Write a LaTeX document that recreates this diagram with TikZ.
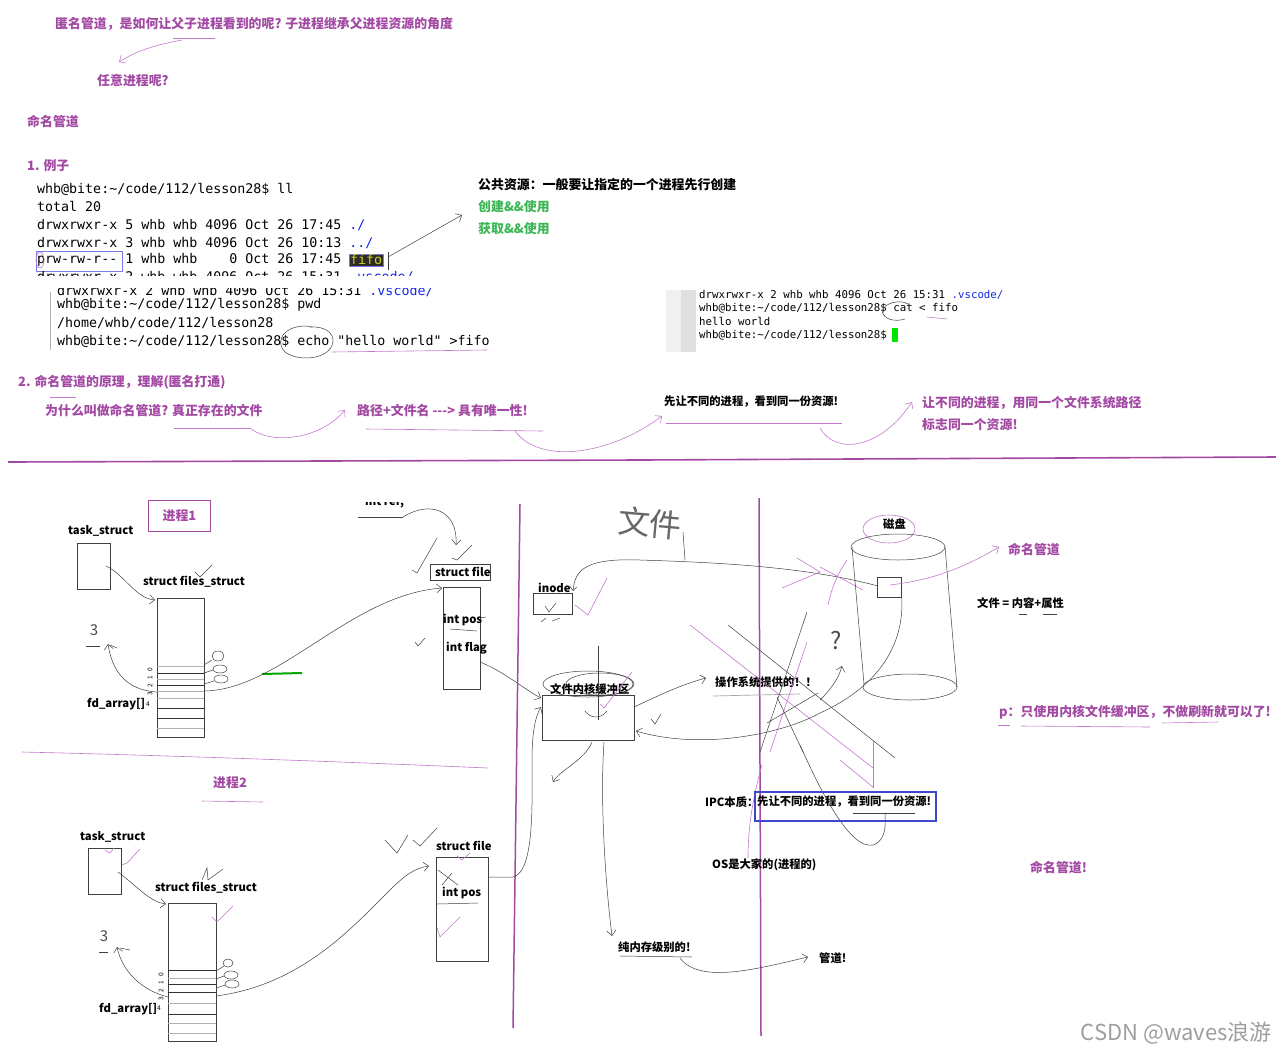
\documentclass[tikz,border=0pt]{standalone}
\usepackage{fontspec}
\setmainfont{Noto Sans CJK SC}
\newfontfamily\monof{DejaVu Sans Mono}
\usetikzlibrary{arrows.meta}
\definecolor{pur}{RGB}{163,73,164}
\definecolor{lpur}{RGB}{196,120,206}
\definecolor{grn}{RGB}{58,183,84}
\definecolor{blu}{RGB}{63,72,204}
\definecolor{lblu}{RGB}{120,120,230}
\definecolor{tblu}{RGB}{20,40,235}
\definecolor{fifobg}{RGB}{45,45,35}
\definecolor{fifofg}{RGB}{205,205,50}
\begin{document}
\begin{tikzpicture}[x=1pt,y=-1pt,
 cn/.style={anchor=west,inner sep=0pt,font=\fontsize{12.9}{15}\selectfont\bfseries},
 pcn/.style={cn,text=pur},
 gcn/.style={cn,text=grn},
 sm/.style={anchor=west,inner sep=0pt,font=\fontsize{11.3}{13}\selectfont\bfseries},
 term/.style={anchor=west,inner sep=0pt,font=\monof\fontsize{13.3}{15}\selectfont},
 sterm/.style={anchor=west,inner sep=0pt,font=\monof\fontsize{10.75}{12}\selectfont},
 hand/.style={line width=0.5pt,black!75},
 phand/.style={line width=0.6pt,lpur},
 box/.style={draw=black!75,line width=0.6pt,inner sep=0pt},
 harr/.style={-{Straight Barb[length=5pt,width=9pt]}},
 tiny/.style={inner sep=0pt,font=\fontsize{6.5}{7}\selectfont},
 scrib/.style={inner sep=0pt,text=black!70,font=\fontsize{15}{15}\selectfont}
 ]
\fill[white] (0,0) rectangle (1276,1055);
\useasboundingbox (0,0) rectangle (1276,1055);

% ---------------- top part
\node[pcn] (q1) at (55,24) {匿名管道，是如何让父子进程看到的呢? 子进程继承父进程资源的角度};
\draw[phand] (173,38) -- (215,38);
\draw[phand,harr] (182,40) .. controls (150,46) and (135,52) .. (119,62);
\node[pcn] (q2) at (97,81) {任意进程呢?};
\node[pcn] (h1) at (27,122) {命名管道};
\node[pcn] (h2) at (27,166) {1. 例子};

% terminal 1
\node[term] (l1) at (37,189) {whb@bite:\textasciitilde/code/112/lesson28\$ ll};
\node[term] (l2) at (37,207) {total 20};
\node[term] (l3) at (37,225) {drwxrwxr-x 5 whb whb 4096 Oct 26 17:45 \textcolor{tblu}{./}};
\node[term] (l4) at (37,243) {drwxrwxr-x 3 whb whb 4096 Oct 26 10:13 \textcolor{tblu}{../}};
\node[term] (l5) at (37,260) {prw-rw-r-- 1 whb whb\ \ \ \ 0 Oct 26 17:45};
\node[term,fill=fifobg,text=fifofg,inner sep=1pt,draw=lblu] (fifo) at (349,260) {fifo};
\draw[lblu,line width=0.6pt] (36,251) rectangle (122,271);
\draw[phand] (40,260) ellipse (4 and 8);
\draw[hand] (388,252) -- (388,270);
\coordinate (pubend) at (462,215);
\draw[hand,harr] (388,257) -- (pubend);
\begin{scope}
\clip (30,270) rectangle (420,275);
\node[term] at (37,277) {drwxrwxr-x 2 whb whb 4096 Oct 26 15:31 \textcolor{tblu}{.vscode/}};
\end{scope}
\begin{scope}
\clip (50,288) rectangle (500,297);
\node[term] at (57,291) {drwxrwxr-x 2 whb whb 4096 Oct 26 15:31 \textcolor{tblu}{.vscode/}};
\end{scope}
\draw[gray!60,line width=1pt] (50,292) -- (50,350);

% terminal 2
\node[term] (m1) at (57,305) {whb@bite:\textasciitilde/code/112/lesson28\$ pwd};
\node[term] (m2) at (57,323) {/home/whb/code/112/lesson28};
\node[term] (m3) at (57,341) {whb@bite:\textasciitilde/code/112/lesson28\$ echo "hello world" >fifo};
\draw[hand] (313,327) .. controls (290,322) and (272,338) .. (285,352) .. controls (298,362) and (330,360) .. (333,342) .. controls (334,333) and (325,326) .. (310,327);
\draw[phand] (332,352) -- (487,350);

% terminal 3
\fill[gray!12] (666,290) rectangle (696,352);
\fill[gray!24] (681,290) rectangle (696,352);
\node[sterm] (r1) at (699,295) {drwxrwxr-x 2 whb whb 4096 Oct 26 15:31 \textcolor{tblu}{.vscode/}};
\node[sterm] (r2) at (699,308) {whb@bite:\textasciitilde/code/112/lesson28\$ cat < fifo};
\node[sterm] (r3) at (699,321) {hello world};
\node[sterm] (r4) at (699,335) {whb@bite:\textasciitilde/code/112/lesson28\$};
\fill[green!90!black] (892,328) rectangle (898,342);
\draw[hand] (908,304) .. controls (900,299) and (884,303) .. (882,311) .. controls (884,320) and (895,322) .. (905,319);
\draw[phand] (927,317) -- (947,319);

\node[cn] (pub) at (478,185) {公共资源：一般要让指定的一个进程先行创建};
\node[gcn] (g1) at (478,207) {创建\&\&使用};
\node[gcn] (g2) at (478,229) {获取\&\&使用};

% section 2
\node[pcn] (s2) at (18,382) {2. 命名管道的原理，理解(匿名打通)};
\draw[phand] (50,397) -- (76,397);
\node[pcn] (why) at (45,411) {为什么叫做命名管道? 真正存在的文件};
\node[pcn] (path) at (357,411) {路径+文件名 {-}{-}{-}> 具有唯一性!};
\node[sm] (see) at (664,402) {先让不同的进程，看到同一份资源!};
\node[pcn] (let1) at (922,403) {让不同的进程，用同一个文件系统路径};
\node[pcn] (let2) at (922,425) {标志同一个资源!};
\draw[phand] (174,428) -- (250,428);
\draw[phand,harr] (250,428) .. controls (270,445) and (320,440) .. (345,410);
\draw[phand] (366,429) -- (543,431);
\draw[phand,harr] (515,431) .. controls (540,465) and (610,455) .. (662,416);
\draw[phand] (666,423) -- (842,423);
\draw[phand,harr] (820,428) .. controls (835,455) and (880,450) .. (912,402);
\draw[pur,line width=1.6pt] (8,462) -- (640,460) -- (1276,457);

% ---------------- process 1
\node[draw=pur,line width=1.2pt,text=pur,font=\fontsize{12.9}{15}\selectfont\bfseries,minimum width=62pt,minimum height=31pt,inner sep=0pt] (p1) at (179.5,516) {进程1};
\node[sm] (ts1l) at (68,531) {task\_struct};
\node[box,minimum width=33pt,minimum height=46pt] (ts1) at (93.5,566) {};
\node[sm] (fs1l) at (143,582) {struct files\_struct};
\node[box,minimum width=47pt,minimum height=139pt] (fs1) at (180.5,667.5) {};
\foreach \y/\c in {666/gray!60,673/black!80,679/gray!60,685/black!80,691/gray!60,698/gray!60,708/black!80,718/black!80,728/gray!60}
  \draw[\c,line width=0.6pt] (157,\y) -- (204,\y);
\draw[hand,harr] (106,566) .. controls (125,575) and (135,598) .. (155,600);
\draw[hand] (195,572) -- (200,577) -- (212,565);
\foreach \n/\y in {0/670,1/678,2/686,3/694} \node[tiny,rotate=90] at (150,\y) {\n};
\node[sm] (fd1) at (87,704) {fd\_array[]};
\node[tiny] at (148,704) {4};
\draw[hand,harr] (157,692) .. controls (125,690) and (112,670) .. (108,644);
\node[scrib] at (94,630) {3};
\draw[hand] (86,646) -- (100,646);
\draw[hand] (110,645) -- (117,648);
\draw[hand] (218,656) ellipse (6 and 5);
\draw[hand] (220,669) ellipse (7 and 4);
\draw[hand] (221,679) ellipse (7 and 4);
\draw[hand] (204,665) -- (212,660);
\draw[hand] (204,673) -- (213,670);
\draw[hand] (204,684) -- (214,681);
\draw[green!65!black,line width=2pt] (262,674) -- (302,673);
\node[box,minimum width=37pt,minimum height=102pt] (sf1) at (462,638) {};
\draw[hand,harr] (204,691) .. controls (280,690) and (350,595) .. (442,588);

\begin{scope}
\clip (355,502) rectangle (420,515);
\node[sm] (iref) at (365,502) {int ref;};
\end{scope}
\draw[hand] (358,517) -- (403,517);
\draw[hand,harr] (403,517) .. controls (430,500) and (458,510) .. (456,545);
\draw[hand] (412,570) -- (417,573) -- (437,538);
\draw[hand] (452,558) -- (457,560) -- (472,545);
\draw[hand] (415,642) -- (418,646) -- (425,638);
\node[sm] (sf1l) at (435,572) {struct file};
\draw[hand] (430,564) rectangle (490,580);
\node[sm] (ipos1) at (443,620) {int pos};
\draw[hand] (450,629) -- (477,631);
\draw[hand] (480,618) -- (486,617);
\node[sm] (iflag) at (446,648) {int flag};
\draw[hand,harr] (480,662) .. controls (505,672) and (525,690) .. (541,698);

% purple vertical dividers
\draw[pur,line width=1.5pt] (520,504) -- (513,1028);
\draw[pur,line width=1.5pt] (759,498) -- (761,1036);

% file / inode
\node[scrib,text=black!60,font=\fontsize{32}{32}\selectfont,rotate=-5] (wj) at (650,523) {文件};
\draw[hand] (683,532) -- (685,560);
\node[sm] (inl) at (538,588) {inode};
\node[box,minimum width=39pt,minimum height=21pt] (ino) at (552.5,604) {};
\draw[hand] (545,606) -- (549,612) -- (556,603);
\draw[hand,{Straight Barb[length=4pt,width=7pt]}-] (573,591) .. controls (575,570) and (585,558) .. (640,560) .. controls (700,562) and (800,565) .. (878,586);
\draw[phand] (797,558) -- (820,572) -- (782,588);
\draw[phand] (575,605) -- (588,615) -- (607,578);
\draw[hand] (541,622) -- (546,618);
\draw[hand] (552,621) -- (560,618);

% kernel buffer
\draw[hand] (588,684) ellipse (45 and 13);
\draw[hand] (600,684) ellipse (34 and 11);
\node[sm] (kbl) at (550,689) {文件内核缓冲区};
\node[box,minimum width=92pt,minimum height=45pt] (kb) at (588,718) {};
\draw[hand] (598,646) -- (598,720);
\draw[hand] (585,711) .. controls (590,718) and (600,720) .. (607,711);
\draw[phand] (600,704) -- (604,708) -- (632,672);
\draw[hand,harr] (634,707) .. controls (660,695) and (680,685) .. (706,678);
\node[sm] (osp) at (715,682) {操作系统提供的！！};
\draw[gray!70,line width=0.7pt] (713,696) -- (800,694);
\draw[hand] (651,719) -- (655,724) -- (661,714);
\draw[hand,harr] (592,742) .. controls (585,760) and (560,770) .. (553,782);
\draw[hand,harr] (604,742) .. controls (600,800) and (605,880) .. (612,936);
\node[sm] (pure) at (618,947) {纯内存级别的!};
\draw[hand] (620,956) -- (692,957);
\draw[hand,harr] (680,958) .. controls (700,985) and (760,968) .. (808,957);
\node[sm] (gd) at (819,958) {管道!};

% crossing strokes
\draw[phand] (690,625) -- (873,768);
\draw[hand] (728,625) -- (895,758);
\draw[hand] (807,612) -- (760,752);
\draw[phand] (807,642) -- (770,752);
\draw[hand] (777,697) -- (803,752);
\draw[hand] (818,693) -- (767,723);
\draw[phand] (873,740) -- (873,788);
\draw[phand] (840,760) -- (873,787);
\draw[hand] (800,745) .. controls (820,790) and (850,850) .. (873,845) .. controls (888,840) and (885,820) .. (885,813);
\draw[phand] (762,765) .. controls (752,800) and (748,830) .. (748,858);
\node[scrib,font=\fontsize{24}{24}\selectfont] (qm) at (836,641) {?};
\draw[hand,harr] (820,700) .. controls (830,690) and (838,680) .. (842,666);
\draw[phand] (828,605) .. controls (832,585) and (840,570) .. (847,560);
\draw[phand] (820,567) -- (863,590);

% disk
\node[sm] (dl) at (883,524) {磁盘};
\draw[phand] (889,529) ellipse (26 and 14);
\draw[hand] (898,547) ellipse (47 and 13);
\draw[hand] (852,547) -- (864,684);
\draw[hand] (945,547) -- (957,687);
\draw[hand] (910,687) ellipse (47 and 13);
\node[box,minimum width=24pt,minimum height=20pt] (db) at (889.5,587) {};
\draw[hand,harr] (db.south east) .. controls (905,660) and (860,695) .. (820,713) .. controls (780,735) and (700,750) .. (636,731);
\node[pcn] (nm) at (1008,550) {命名管道};
\draw[phand,harr] (890,585) .. controls (930,580) and (960,570) .. (999,547);
\node[sm] (fe) at (977,603) {文件 = 内容+属性};
\draw[hand] (1019,614) -- (1027,614);
\draw[hand] (1043,614) -- (1057,614);
\node[pcn] (pp) at (999,712) {p：只使用内核文件缓冲区，不做刷新就可以了!};
\draw[phand] (998,725) -- (1010,725);
\draw[phand] (1021,726) -- (1150,727);
\draw[phand] (1162,723) -- (1218,722);

% IPC
\node[sm] (ipc) at (705,802) {IPC本质：};
\node[draw=blu,line width=2pt,minimum width=181pt,minimum height=29pt,inner sep=0pt] (ipcb) at (845,806) {};
\node[sm] (ipct) at (757,802) {先让不同的进程，看到同一份资源!};
\draw[hand] (853,813) -- (915,813);
\node[sm] (os) at (712,865) {OS是大家的(进程的)};
\node[pcn] (nm2) at (1030,868) {命名管道!};

% ---------------- process 2
\draw[phand] (22,752) .. controls (150,755) and (300,760) .. (488,768);
\node[pcn] (p2) at (213,783) {进程2};
\draw[phand] (202,801) -- (263,802);
\node[sm] (ts2l) at (80,837) {task\_struct};
\node[box,minimum width=33pt,minimum height=46pt] (ts2) at (105,871) {};
\node[sm] (fs2l) at (155,888) {struct files\_struct};
\node[box,minimum width=48pt,minimum height=138pt] (fs2) at (192,972) {};
\foreach \y/\c in {970/black!80,978/gray!60,984/black!80,992/black!80,1003/gray!60,1014/black!80,1023/gray!60,1033/gray!60}
  \draw[\c,line width=0.6pt] (168,\y) -- (216,\y);
\foreach \n/\y in {0/975,1/983,2/991,3/999} \node[tiny,rotate=90] at (161,\y) {\n};
\node[sm] (fd2) at (99,1009) {fd\_array[]};
\node[tiny] at (159,1008) {4};
\draw[hand,harr] (118,872) .. controls (138,887) and (150,902) .. (166,904);
\draw[hand,harr] (168,997) .. controls (140,990) and (122,970) .. (117,947);
\node[scrib] at (104,936) {3};
\draw[hand] (99,952) -- (108,952);
\draw[hand] (120,948) -- (130,950);
\draw[hand] (228,963) ellipse (5 and 4);
\draw[hand] (231,975) ellipse (7 and 4);
\draw[hand] (232,984) ellipse (7 and 4);
\draw[hand] (216,971) -- (224,966);
\draw[hand] (216,979) -- (224,976);
\draw[hand] (216,988) -- (225,985);
\draw[phand] (105,850) -- (110,853) -- (114,848);
\draw[phand] (122,865) -- (127,863) -- (140,849);
\draw[hand] (202,880) -- (207,868) -- (208,880) -- (223,869);
\draw[phand] (212,917) -- (217,922) -- (233,906);
\node[sm] (sf2l) at (436,846) {struct file};
\node[box,minimum width=52pt,minimum height=104pt] (sf2) at (462,909) {};
\node[sm] (ipos2) at (442,893) {int pos};
\draw[hand] (437,904) -- (478,903);
\draw[hand] (438,870) -- (458,885);
\draw[hand] (442,885) -- (452,873);
\draw[phand] (437,928) -- (440,937) -- (460,917);
\draw[phand] (457,856) -- (462,860) -- (470,853);
\draw[hand] (385,840) -- (397,853) -- (408,835);
\draw[hand] (413,840) -- (420,846) -- (437,828);
\draw[hand,harr] (216,996) .. controls (300,985) and (350,930) .. (390,890) .. controls (405,875) and (415,868) .. (429,866);
\draw[hand,harr] (sf2.east |- 0,877) -- (513,877) .. controls (535,872) and (532,800) .. (532,760) .. controls (532,730) and (536,715) .. (541,707);

% watermark
\node[anchor=east,inner sep=0pt,text=black!38,font=\fontsize{22}{24}\selectfont] (wm) at (1272,1033) {CSDN @waves浪游};
\end{tikzpicture}
\end{document}
